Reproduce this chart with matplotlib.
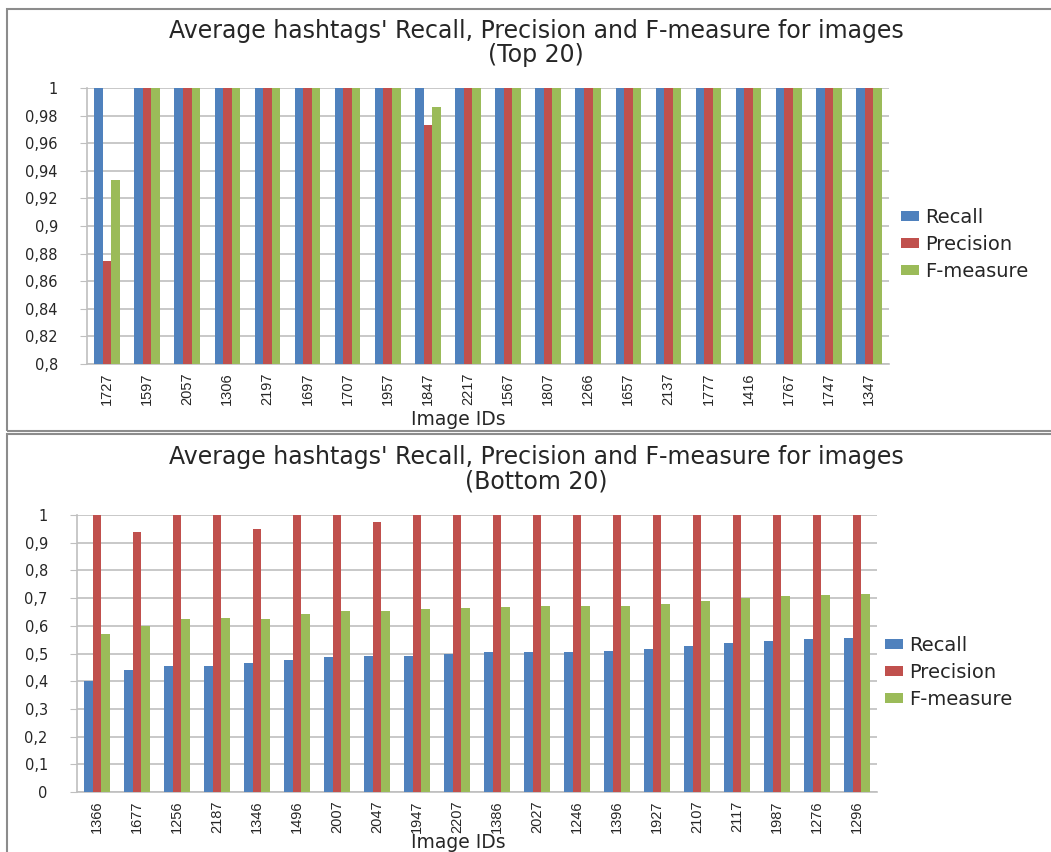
import numpy as np
import matplotlib
matplotlib.use('Agg')
import matplotlib.pyplot as plt
from matplotlib.patches import Rectangle
from matplotlib.ticker import FuncFormatter, MultipleLocator

series_names = ['Recall', 'Precision', 'F-measure']

top_ids = ['1727', '1597', '2057', '1306', '2197', '1697', '1707', '1957', '1847', '2217',
           '1567', '1807', '1266', '1657', '2137', '1777', '1416', '1767', '1747', '1347']
top_recall = [1.0] * 20
top_precision = [0.875, 1, 1, 1, 1, 1, 1, 1, 0.973, 1,
                 1, 1, 1, 1, 1, 1, 1, 1, 1, 1]
top_fmeasure = [0.933, 1, 1, 1, 1, 1, 1, 1, 0.986, 1,
                1, 1, 1, 1, 1, 1, 1, 1, 1, 1]

bottom_ids = ['1366', '1677', '1256', '2187', '1346', '1496', '2007', '2047', '1947', '2207',
              '1386', '2027', '1246', '1396', '1927', '2107', '2117', '1987', '1276', '1296']
bottom_recall = [0.400, 0.442, 0.456, 0.456, 0.465, 0.475, 0.487, 0.492, 0.492, 0.499,
                 0.504, 0.504, 0.507, 0.510, 0.517, 0.528, 0.538, 0.546, 0.554, 0.556]
bottom_precision = [1, 0.939, 1, 1, 0.951, 1, 1, 0.974, 1, 1,
                    1, 1, 1, 1, 1, 1, 1, 1, 1, 1]
bottom_fmeasure = [0.570, 0.599, 0.624, 0.627, 0.624, 0.644, 0.654, 0.654, 0.661, 0.666,
                   0.668, 0.671, 0.673, 0.673, 0.679, 0.689, 0.700, 0.706, 0.710, 0.713]

colors = ['#4F81BD', '#C0504D', '#9BBB59']
grid_col = '#BFBFBF'
text_col = '#262626'
W, H = 1051, 852


def fx(px):
    return px / W


def fy(py):
    return 1 - py / H


def comma_fmt(v, pos):
    return ('%g' % round(v, 2)).replace('.', ',')


def draw_panel(fig, rect, ids, values, ylim, ystep, title_y, xlabel_y, legend_xy):
    left, top, right, bottom = rect
    ax = fig.add_axes([fx(left), fy(bottom), fx(right - left), (bottom - top) / H])
    x = np.arange(len(ids))
    w = 0.213
    for i, vals in enumerate(values):
        ax.bar(x + (i - 1) * w, vals, width=w, color=colors[i], label=series_names[i],
               linewidth=0, zorder=3)

    ax.set_xlim(-0.5, len(ids) - 0.5)
    ax.set_ylim(*ylim)
    ax.yaxis.set_major_locator(MultipleLocator(ystep))
    ax.yaxis.set_major_formatter(FuncFormatter(comma_fmt))
    ax.yaxis.grid(True, color=grid_col, linewidth=1.2, zorder=0)
    ax.set_axisbelow(True)

    ax.set_xticks(x)
    ax.set_xticklabels(ids, rotation=90, fontsize=10.5, family='Liberation Sans')
    ax.tick_params(axis='x', length=0, pad=6)
    ax.tick_params(axis='y', length=5, color=grid_col, pad=16, labelsize=10.5)
    for lab in ax.get_xticklabels() + ax.get_yticklabels():
        lab.set_color(text_col)

    for s in ['top', 'right']:
        ax.spines[s].set_visible(False)
    for s in ['left', 'bottom']:
        ax.spines[s].set_color(grid_col)
        ax.spines[s].set_linewidth(1.2)

    fig.text(fx(536), fy(title_y[0]), "Average hashtags' Recall, Precision and F-measure for images",
             ha='center', va='center', fontsize=17, color=text_col)
    fig.text(fx(536), fy(title_y[1]), title_y[2],
             ha='center', va='center', fontsize=17, color=text_col)
    fig.text(fx(458), fy(xlabel_y), 'Image IDs', ha='center', va='center',
             fontsize=13.5, color=text_col)

    lg = ax.legend(loc='upper left', bbox_to_anchor=(fx(legend_xy[0]), fy(legend_xy[1])),
                   bbox_transform=fig.transFigure, frameon=False, fontsize=14,
                   handlelength=0.9, handleheight=0.4, handletextpad=0.35,
                   labelspacing=0.4, borderpad=0, borderaxespad=0)
    for t in lg.get_texts():
        t.set_color(text_col)
    return ax


plt.rcParams['font.family'] = ['DejaVu Sans']
fig = plt.figure(figsize=(W / 100, H / 100), dpi=100)

# frames around the two charts
fig.patches.append(Rectangle((fx(7), fy(431)), 1.0, (431 - 9) / H, transform=fig.transFigure,
                             fill=False, edgecolor='#8C8C8C', linewidth=1.5))
fig.patches.append(Rectangle((fx(7), fy(880)), 1.0, (880 - 434) / H, transform=fig.transFigure,
                             fill=False, edgecolor='#8C8C8C', linewidth=1.5))

draw_panel(fig, (87, 88, 889, 364), top_ids,
           [top_recall, top_precision, top_fmeasure], (0.8, 1.0), 0.02,
           (31, 55, '(Top 20)'), 419, (901, 208))

draw_panel(fig, (77, 515, 877, 792), bottom_ids,
           [bottom_recall, bottom_precision, bottom_fmeasure], (0.0, 1.0), 0.1,
           (457, 481, '(Bottom 20)'), 842, (885, 636))

fig.savefig('out.png', dpi=100)
